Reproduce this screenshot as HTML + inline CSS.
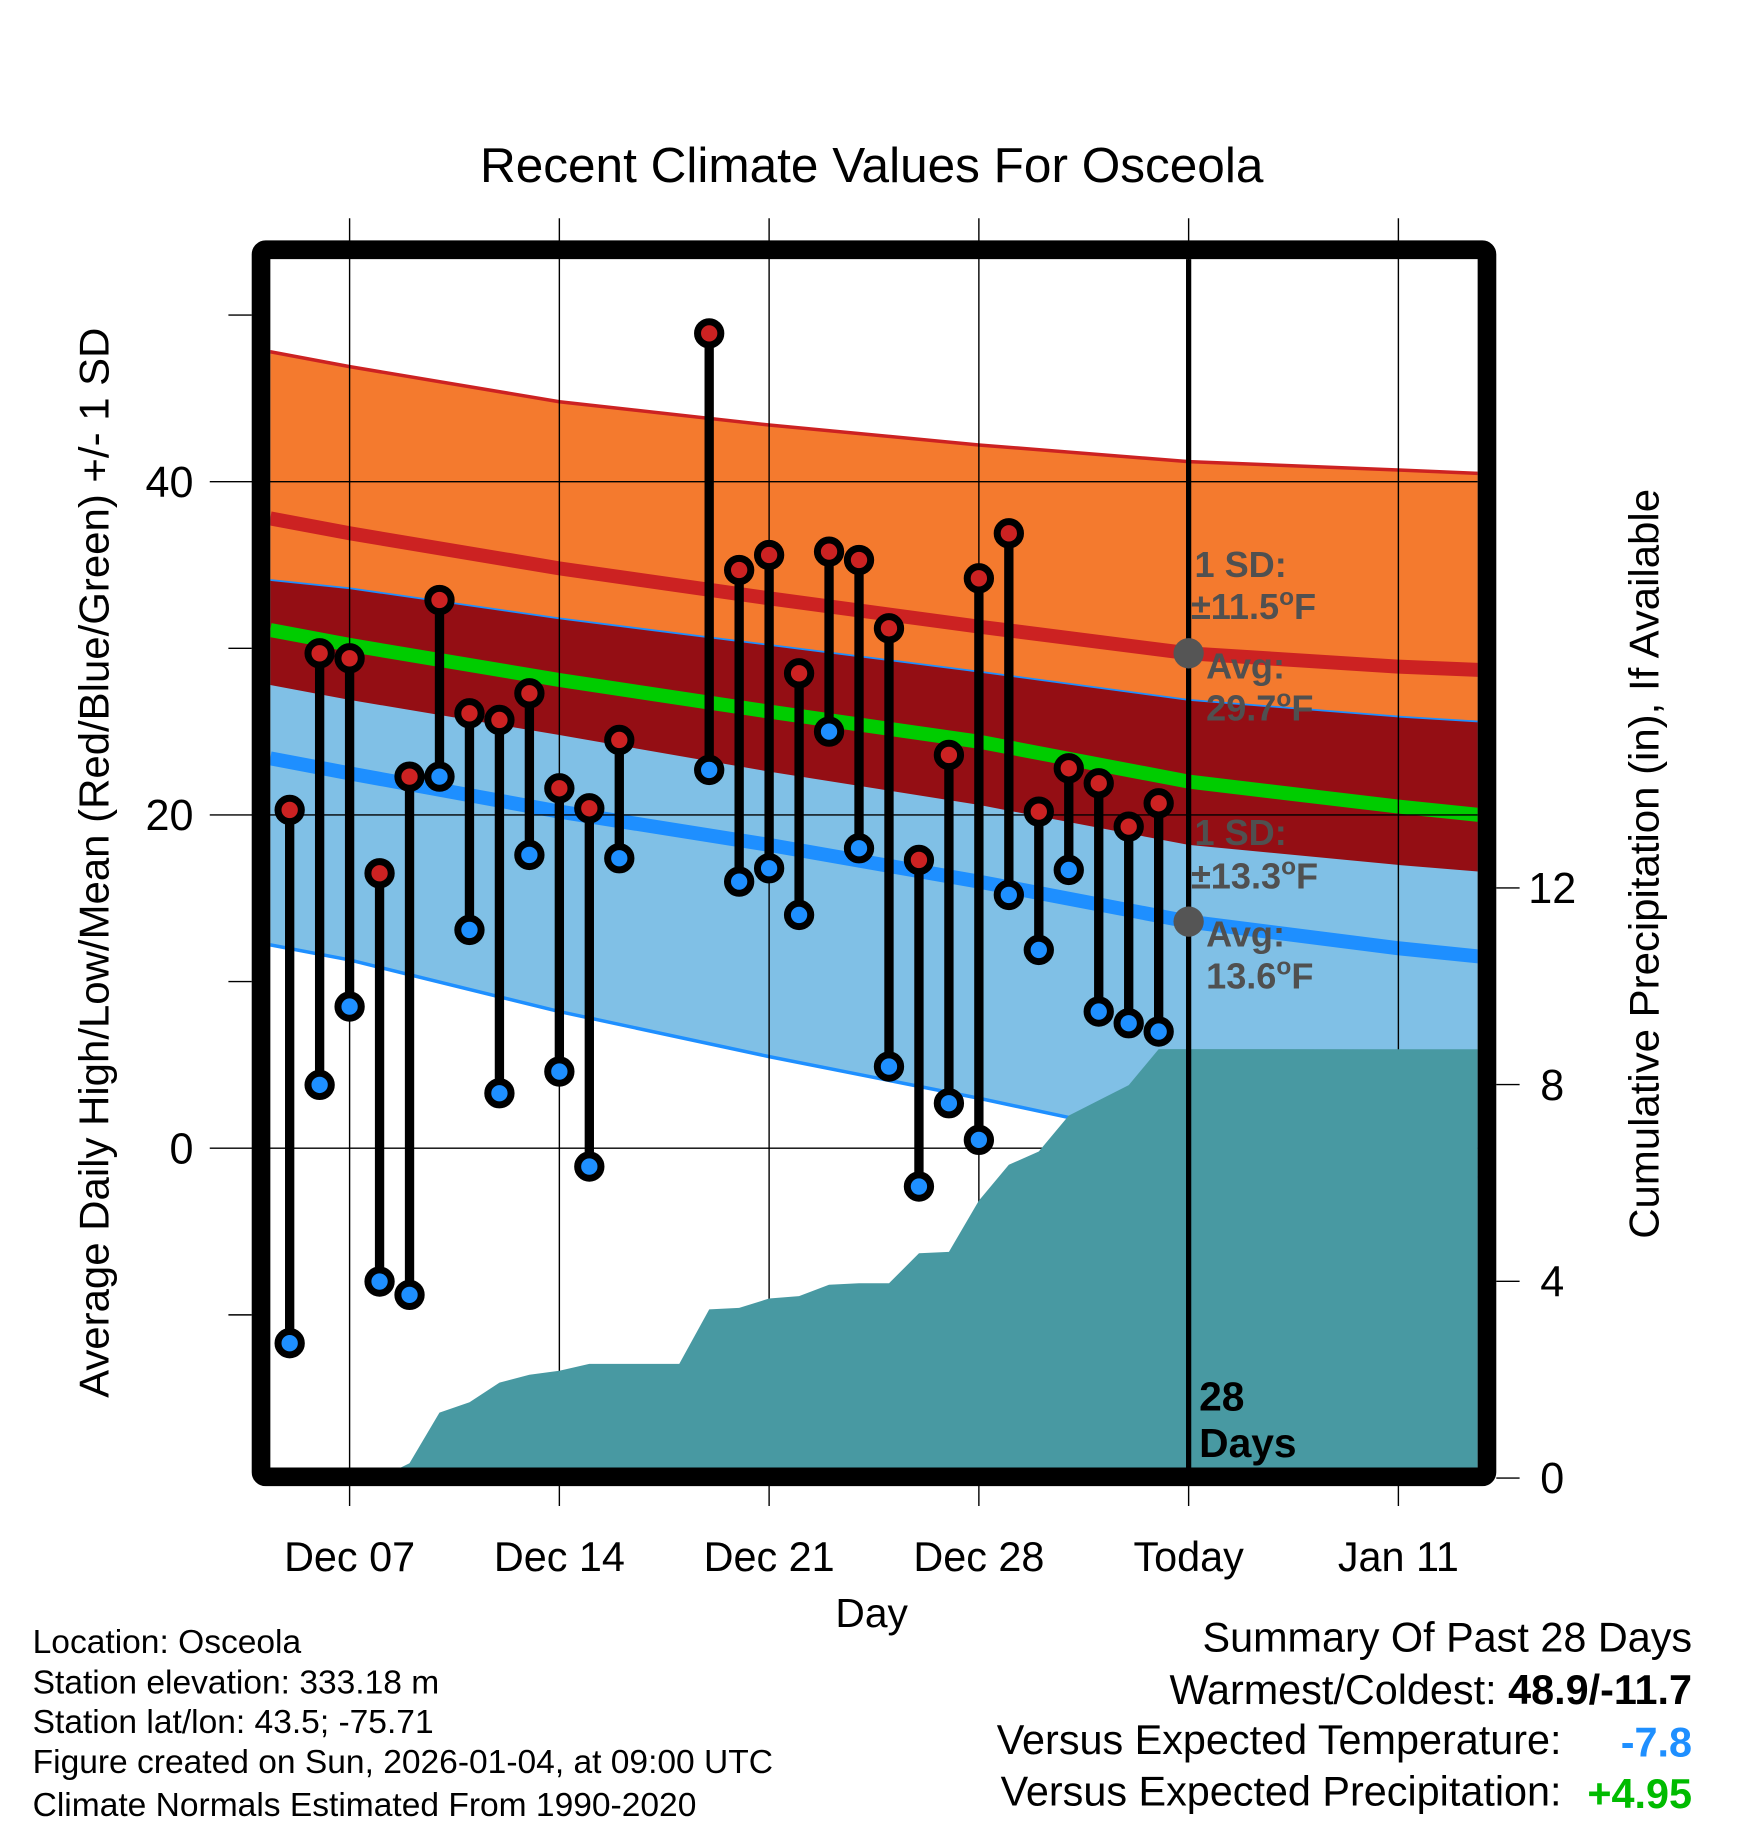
<!DOCTYPE html>
<html><head><meta charset="utf-8">
<style>html,body{margin:0;padding:0;background:#fff}svg{display:block}text{font-family:"Liberation Sans",Arial,sans-serif}</style>
</head><body>
<svg id="chart" width="1748" height="1828" viewBox="0 0 1500 1568" xmlns="http://www.w3.org/2000/svg">
<defs><clipPath id="plotclip"><rect x="232" y="222" width="1036" height="1038"/></clipPath></defs>
<g id="bands" clip-path="url(#plotclip)"></g>
<g id="grid"></g>
<g id="precip" clip-path="url(#plotclip)"></g>
<g id="marks"></g>
<g id="annot"></g>
<text x="748" y="156" font-size="42.5" text-anchor="middle">Recent Climate Values For Osceola</text>
<text transform="translate(93,740) rotate(-90)" font-size="36" text-anchor="middle">Average Daily High/Low/Mean (Red/Blue/Green) +/- 1 SD</text>
<text transform="translate(1423,741) rotate(-90)" font-size="36" text-anchor="middle">Cumulative Precipitation (in), If Available</text>
<text x="748" y="1396" font-size="35" text-anchor="middle">Day</text>
<g font-size="28.8">
<text x="28" y="1418">Location: Osceola</text>
<text x="28" y="1453">Station elevation: 333.18 m</text>
<text x="28" y="1487">Station lat/lon: 43.5; -75.71</text>
<text x="28" y="1521">Figure created on Sun, 2026-01-04, at 09:00 UTC</text>
<text x="28" y="1558">Climate Normals Estimated From 1990-2020</text>
</g>
<g font-size="35.5">
<text x="1452" y="1417" text-anchor="end">Summary Of Past 28 Days</text>
<text x="1452" y="1462" text-anchor="end">Warmest/Coldest: <tspan font-weight="bold">48.9/-11.7</tspan></text>
<text x="1340" y="1505" text-anchor="end">Versus Expected Temperature:</text>
<text x="1452" y="1507" text-anchor="end" font-weight="bold" fill="#1e8fff">-7.8</text>
<text x="1340" y="1549" text-anchor="end">Versus Expected Precipitation:</text>
<text x="1452" y="1551" text-anchor="end" font-weight="bold" fill="#00bb00">+4.95</text>
</g>
<script>
// Normals sample days (relative to Dec 07)
const normDays=[-2.65,0,7,14,21,28,35,37.7];
const hiUp=[47.8,46.9,44.8,43.4,42.2,41.2,40.7,40.5];
const hiAvg=[37.8,36.9,34.8,33.0,31.3,29.7,28.9,28.7];
const hiLo=[27.8,26.9,24.8,22.6,20.6,18.2,17.0,16.6];
const meanT=[31.1,30.2,28.1,26.2,24.4,22.0,20.5,20.0];
const loUp=[34.1,33.6,31.8,30.2,28.6,26.9,25.9,25.6];
const loAvg=[23.4,22.5,20.2,18.2,16.0,13.6,12.0,11.5];
const loLo=[12.2,11.3,8.2,5.5,3.0,0.3,-1.3,-1.8];
// Daily observations, Dec 05 .. Jan 03 (day index relative to Dec 07)
const obsDays=[-2,-1,0,1,2,3,4,5,6,7,8,9,10,11,12,13,14,15,16,17,18,19,20,21,22,23,24,25,26,27];
const highs=[20.3,29.7,29.4,16.5,22.3,32.9,26.1,25.7,27.3,21.6,20.4,24.5,null,null,48.9,34.7,35.6,28.5,35.8,35.3,31.2,17.3,23.6,34.2,36.9,20.2,22.8,21.9,19.3,20.7];
const lows=[-11.7,3.8,8.5,-8.0,-8.8,22.3,13.1,3.3,17.6,4.6,-1.1,17.4,null,null,22.7,16.0,16.8,14.0,25.0,18.0,4.9,-2.3,2.7,0.5,15.2,11.9,16.7,8.2,7.5,7.0];
const precip=[0,0,0,0,0.3,1.33,1.54,1.94,2.1,2.18,2.32,2.32,2.32,2.32,3.43,3.46,3.65,3.7,3.93,3.96,3.96,4.57,4.6,5.64,6.37,6.64,7.37,7.68,7.99,8.72];
const xTickDays=[0,7,14,21,28,35];
const xTickLabels=["Dec 07","Dec 14","Dec 21","Dec 28","Today","Jan 11"];
const yTicks=[0,20,40];
const yMinor=[-10,10,30,50];
const y2Ticks=[0,4,8,12];
const todayDay=28;

const NS="http://www.w3.org/2000/svg";
const X=d=>300+d*25.714;
const Y=t=>985-t*14.3;
const Y2=p=>1268-p*42.2;
function mk(tag,attrs,parent){const e=document.createElementNS(NS,tag);for(const k in attrs)e.setAttribute(k,attrs[k]);parent.appendChild(e);return e;}
function pts(days,vals){return days.map((d,i)=>X(d).toFixed(1)+","+Y(vals[i]).toFixed(1));}
const bands=document.getElementById('bands'),grid=document.getElementById('grid'),pg=document.getElementById('precip'),marks=document.getElementById('marks'),an=document.getElementById('annot'),svg=document.getElementById('chart');

let e;
e=mk('polygon',{points:pts(normDays,hiUp).concat(pts(normDays,hiLo).reverse()).join(' '),fill:'#f47a2e'},bands);

e=mk('polygon',{points:pts(normDays,loUp).concat(pts(normDays,loLo).reverse()).join(' '),fill:'#80c0e6'},bands);

e=mk('polygon',{points:pts(normDays,loUp).concat(pts(normDays,hiLo).reverse()).join(' '),fill:'#940e14'},bands);

e=mk('polyline',{points:pts(normDays,hiUp).join(' '),fill:'none',stroke:'#cc2222',"stroke-width":3},bands);

e=mk('polyline',{points:pts(normDays,loUp).join(' '),fill:'none',stroke:'#1e8fff',"stroke-width":1.5},bands);

e=mk('polyline',{points:pts(normDays,loLo).join(' '),fill:'none',stroke:'#1e8fff',"stroke-width":3},bands);

e=mk('polyline',{points:pts(normDays,hiAvg).join(' '),fill:'none',stroke:'#cc2222',"stroke-width":12},bands);

e=mk('polyline',{points:pts(normDays,meanT).join(' '),fill:'none',stroke:'#00cc00',"stroke-width":12},bands);

e=mk('polyline',{points:pts(normDays,loAvg).join(' '),fill:'none',stroke:'#1e8fff',"stroke-width":12},bands);


// grid
xTickDays.forEach((d,i)=>{
 e=mk('line',{x1:X(d),x2:X(d),y1:187,y2:1292,stroke:'#000',"stroke-width":1.2},grid);
 
 e=mk('text',{x:X(d),y:1348,"font-size":35.5,"text-anchor":"middle"},grid);e.textContent=xTickLabels[i];
 
});
yTicks.forEach(t=>{
 e=mk('line',{x1:180,x2:1268,y1:Y(t),y2:Y(t),stroke:'#000',"stroke-width":1.2},grid);
 
 e=mk('text',{x:166,y:Y(t)+13,"font-size":37,"text-anchor":"end"},grid);e.textContent=t;
 
});
yMinor.forEach(t=>{
 e=mk('line',{x1:196,x2:216,y1:Y(t),y2:Y(t),stroke:'#000',"stroke-width":1.2},grid);
 
});
y2Ticks.forEach(p=>{
 e=mk('line',{x1:1284,x2:1304,y1:Y2(p),y2:Y2(p),stroke:'#000',"stroke-width":1.2},grid);
 
 e=mk('text',{x:1332,y:Y2(p)+13,"font-size":37,"text-anchor":"middle"},grid);e.textContent=p;
 
});

// precip area
let pp=[X(-2.65)+","+Y2(0)];
obsDays.forEach((d,i)=>pp.push(X(d).toFixed(1)+","+Y2(precip[i]).toFixed(1)));
pp.push(X(38)+","+Y2(precip[precip.length-1]));pp.push(X(38)+","+Y2(-1));pp.push(X(-3)+","+Y2(-1));
e=mk('polygon',{points:pp.join(' '),fill:'#4899a2'},pg);


// stems
obsDays.forEach((d,i)=>{
 if(highs[i]==null)return;
 const x=X(d);
 e=mk('line',{x1:x,x2:x,y1:Y(highs[i]),y2:Y(lows[i]),stroke:'#000',"stroke-width":8},marks);
 
});
obsDays.forEach((d,i)=>{
 if(highs[i]==null)return;
 const x=X(d);
 e=mk('circle',{cx:x,cy:Y(highs[i]),r:10,fill:'#cc2222',stroke:'#000',"stroke-width":6},marks);
 
 e=mk('circle',{cx:x,cy:Y(lows[i]),r:10,fill:'#1e8fff',stroke:'#000',"stroke-width":6},marks);
 
});

// today line & annotations
const tx=X(todayDay);
e=mk('line',{x1:tx,x2:tx,y1:222,y2:1262,stroke:'#000',"stroke-width":4.5},an);

e=mk('circle',{cx:tx,cy:Y(hiAvg[5]),r:13,fill:'#555'},an);

e=mk('circle',{cx:tx,cy:Y(loAvg[5]),r:13,fill:'#555'},an);

function lbl(x,y,txt,name,deg,fill,fs){
 const t=mk('text',{x:x,y:y,"font-size":fs||31,"font-weight":"bold",fill:fill||'#505050'},an);
 
 const a=mk('tspan',{},t);a.textContent=txt;
 if(deg){const s=mk('tspan',{dy:-12,"font-size":21},t);s.textContent='o';const f=mk('tspan',{dy:12},t);f.textContent='F';}
}
lbl(1025,495,'1 SD:','high-sd-label');
lbl(1022,531,'±11.5','high-sd-value',true);
lbl(1035,582,'Avg:','high-avg-label');
lbl(1035,618,'29.7','high-avg-value',true);
lbl(1025,725,'1 SD:','low-sd-label');
lbl(1022,762,'±13.3','low-sd-value',true);
lbl(1035,812,'Avg:','low-avg-label');
lbl(1035,848,'13.6','low-avg-value',true);
lbl(1029,1210,'28','days-count',false,'#000',35);
lbl(1029,1250,'Days','days-label',false,'#000',35);

e=mk('rect',{x:224,y:214,width:1052,height:1053,fill:'none',stroke:'#000',"stroke-width":16,rx:4},svg);

</script>
</svg>
</body></html>
